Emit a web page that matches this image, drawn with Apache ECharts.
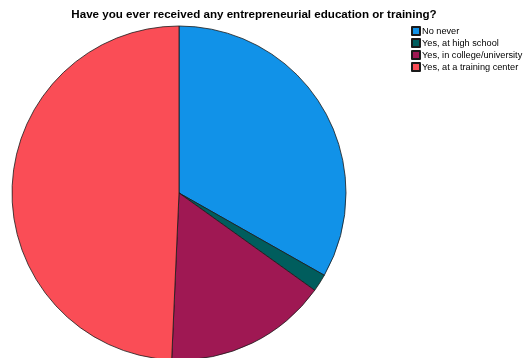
<!DOCTYPE html>
<html>
<head>
<meta charset="utf-8">
<script src="https://cdn.jsdelivr.net/npm/echarts@6/dist/echarts.min.js"></script>
<style>
  html, body { margin: 0; padding: 0; background: #fff; }
  #chart { width: 527px; height: 358px; }
</style>
</head>
<body>
<div id="chart"></div>
<script>
// Responses (percent of respondents)
const categories = ['No never', 'Yes, at high school', 'Yes, in college/university', 'Yes, at a training center'];
const shares = [33.2, 1.7, 15.8, 49.3];
const colors = ['#1192e8', '#005d5d', '#9f1853', '#fa4d56'];

const chart = echarts.init(document.getElementById('chart'), null, { renderer: 'canvas' });

chart.setOption({
  animation: false,
  backgroundColor: '#ffffff',
  title: {
    text: 'Have you ever received any entrepreneurial education or training?',
    left: 254,
    textAlign: 'center',
    top: 9,
    padding: 0,
    textStyle: { fontFamily: 'Liberation Sans, Arial, sans-serif', fontSize: 11.6, fontWeight: 'bold', color: '#000' }
  },
  legend: {
    orient: 'vertical',
    left: 411,
    top: 26,
    padding: 0,
    itemWidth: 8,
    itemHeight: 8,
    itemGap: 2,
    icon: 'rect',
    textStyle: { fontFamily: 'Liberation Sans, Arial, sans-serif', fontSize: 9.2, lineHeight: 10, color: '#000', padding: [0, 0, 0, -3] },
    data: categories
  },
  series: [{
    type: 'pie',
    center: [179, 193],
    radius: 167,
    startAngle: 90,
    clockwise: true,
    label: { show: false },
    labelLine: { show: false },
    emphasis: { disabled: true },
    itemStyle: { borderColor: '#1a1a1a', borderWidth: 0.8 },
    data: categories.map((name, i) => ({
      name,
      value: shares[i],
      itemStyle: { color: colors[i] }
    }))
  }]
});
</script>
</body>
</html>
